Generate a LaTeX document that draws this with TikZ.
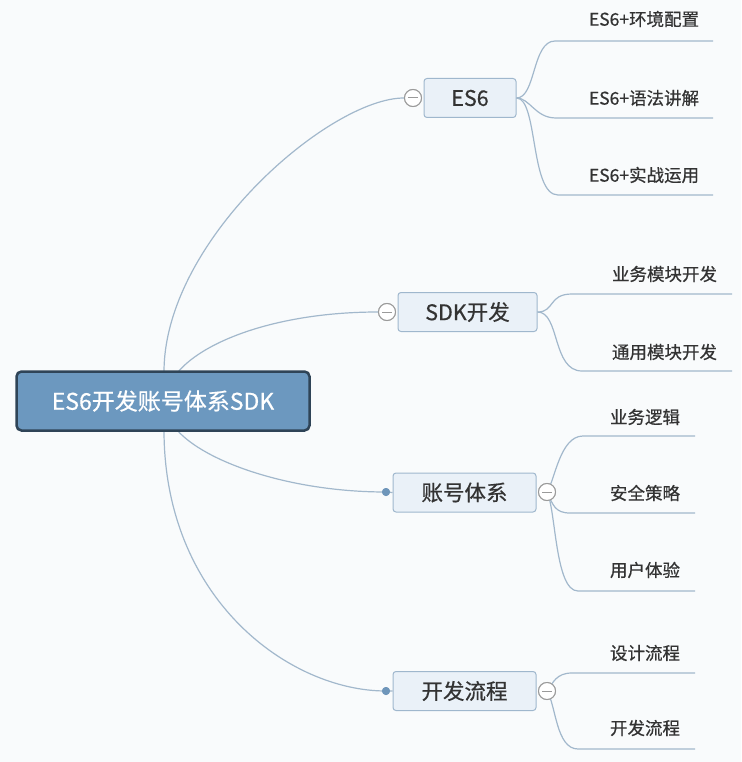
\documentclass[tikz,border=0pt]{standalone}
\usepackage{fontspec}
\setmainfont{Noto Sans CJK SC}[FakeBold=0.6]
\definecolor{bgc}{HTML}{F9FBFC}
\definecolor{linec}{HTML}{A2B8CC}
\definecolor{rootfill}{HTML}{6C98BF}
\definecolor{rootdraw}{HTML}{2F4457}
\definecolor{topicfill}{HTML}{EAF1F8}
\definecolor{topicdraw}{HTML}{9FB7CD}
\definecolor{txt}{HTML}{333333}
\definecolor{dotc}{HTML}{6F96BA}
\definecolor{foldc}{HTML}{9A9A9A}
\tikzset{
  rootbox/.style={rectangle, rounded corners=5pt, fill=rootfill, draw=rootdraw, line width=2.5pt,
    minimum width=293pt, minimum height=59pt, text=white, inner sep=0pt,
    font=\fontsize{23}{27}\selectfont},
  topicbox/.style={rectangle, rounded corners=3pt, fill=topicfill, draw=topicdraw, line width=1pt,
    minimum height=39pt, text=txt, inner sep=0pt, font=\fontsize{21.5}{25}\selectfont},
  leaftext/.style={text=txt, inner sep=0pt, font=\fontsize{17.5}{21}\selectfont},
  conn/.style={draw=linec, line width=1.2pt},
  foldmark/.style={circle, draw=foldc, fill=white, line width=1pt, minimum size=17pt, inner sep=0pt},
  dotmark/.style={circle, fill=dotc, minimum size=8pt, inner sep=0pt},
}
\begin{document}
\begin{tikzpicture}[x=1pt,y=-1pt]
\fill[bgc] (0,0) rectangle (741,762);
\useasboundingbox (0,0) rectangle (741,762);

% coordinates for connector ends
\coordinate (rt1) at (164,372);
\coordinate (rt2) at (178,372);
\coordinate (rb1) at (177,430);
\coordinate (rb2) at (164,430);

% leaf line ends
\coordinate (a1s) at (555,41);  \coordinate (a1e) at (713,41);
\coordinate (a2s) at (556,118); \coordinate (a2e) at (713,118);
\coordinate (a3s) at (558,195); \coordinate (a3e) at (713,195);
\coordinate (b1s) at (572,294); \coordinate (b1e) at (732,294);
\coordinate (b2s) at (582,371); \coordinate (b2e) at (732,371);
\coordinate (c1s) at (583,436); \coordinate (c1e) at (695,436);
\coordinate (c2s) at (570,513); \coordinate (c2e) at (695,513);
\coordinate (c3s) at (578,591); \coordinate (c3e) at (695,591);
\coordinate (d1s) at (572,673); \coordinate (d1e) at (695,673);
\coordinate (d2s) at (578,749); \coordinate (d2e) at (695,749);

% topic nodes
\node[topicbox, minimum width=92pt] (es6) at (470,98) {ES6};
\node[topicbox, minimum width=139pt] (sdk) at (467.5,312) {SDK开发};
\node[topicbox, minimum width=143pt] (acc) at (464.5,492.5) {账号体系};
\node[topicbox, minimum width=143pt] (dev) at (464.5,691) {开发流程};

% fold marks and dots
\node[foldmark] (f1) at (413,98) {};
\node[foldmark] (f2) at (387,312) {};
\node[foldmark] (f3) at (547,492) {};
\node[foldmark] (f4) at (547,691) {};
\node[dotmark] (p3) at (386,492) {};
\node[dotmark] (p4) at (386,691) {};

% main connectors
\draw[conn] (rt1) .. controls (164,240) and (330,98) .. (f1.west);
\draw[conn] (rt2) .. controls (205,340) and (280,312) .. (f2.west);
\draw[conn] (rb1) .. controls (205,462) and (290,492) .. (p3.center) -- (acc.west);
\draw[conn] (rb2) .. controls (164,600) and (290,691) .. (p4.center) -- (dev.west);

% child connectors
\draw[conn] (es6.east) .. controls (536,98) and (532,41) .. (a1s) -- (a1e);
\draw[conn] (es6.east) .. controls (530,98) and (535,118) .. (a2s) -- (a2e);
\draw[conn] (es6.east) .. controls (538,98) and (530,195) .. (a3s) -- (a3e);
\draw[conn] (sdk.east) .. controls (555,312) and (548,294) .. (b1s) -- (b1e);
\draw[conn] (sdk.east) .. controls (560,312) and (552,371) .. (b2s) -- (b2e);
\draw[conn] (f3.center) .. controls (555,480) and (560,436) .. (c1s) -- (c1e);
\draw[conn] (f3.center) .. controls (553,505) and (555,513) .. (c2s) -- (c2e);
\draw[conn] (f3.center) .. controls (556,510) and (555,591) .. (c3s) -- (c3e);
\draw[conn] (f4.center) .. controls (553,683) and (556,673) .. (d1s) -- (d1e);
\draw[conn] (f4.center) .. controls (556,705) and (556,749) .. (d2s) -- (d2e);

% redraw marks on top
\foreach \f in {f1,f2,f3,f4}{
  \node[foldmark] at (\f) {};
  \draw[foldc, line width=1pt] ([xshift=-5pt]\f.center) -- ([xshift=5pt]\f.center);
}
\node[dotmark] at (p3) {};
\node[dotmark] at (p4) {};

% root
\node[rootbox] (root) at (163,401) {ES6开发账号体系SDK};

% leaves
\node[leaftext] (l1) at (644,19) {ES6+环境配置};
\node[leaftext] (l2) at (644,98) {ES6+语法讲解};
\node[leaftext] (l3) at (644,175) {ES6+实战运用};
\node[leaftext] (l4) at (664.5,274) {业务模块开发};
\node[leaftext] (l5) at (664.5,352) {通用模块开发};
\node[leaftext] (l6) at (645,417) {业务逻辑};
\node[leaftext] (l7) at (645,493) {安全策略};
\node[leaftext] (l8) at (645,570) {用户体验};
\node[leaftext] (l9) at (645,653) {设计流程};
\node[leaftext] (l10) at (645,728) {开发流程};
\end{tikzpicture}
\end{document}
